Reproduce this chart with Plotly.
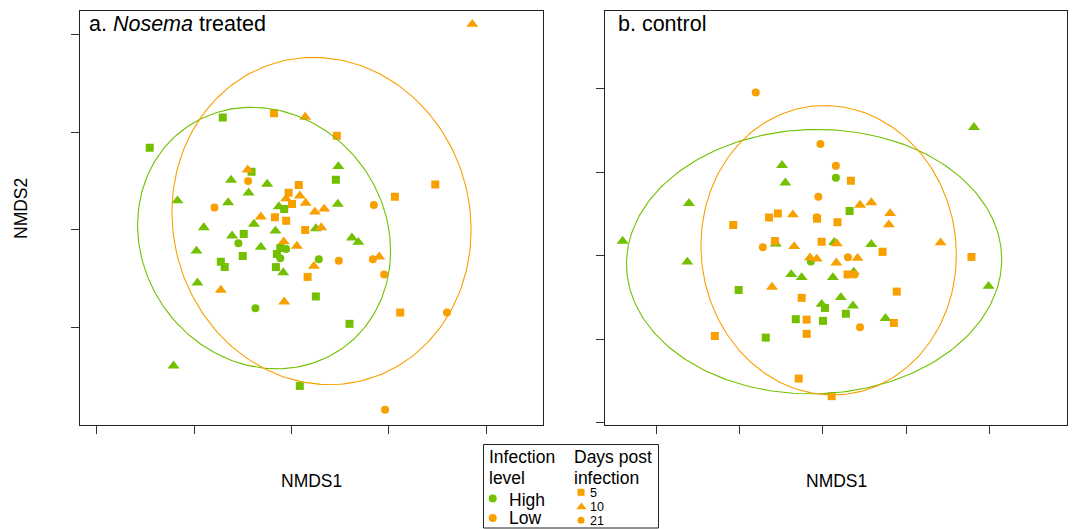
import numpy as np
import plotly.graph_objects as go

# ---------------- Data (NMDS scores) ----------------
# Panel a: Nosema treated
a_high_d5_x = [-0.291, -0.141, -0.082, 0.091, -0.015, -0.098, -0.100, -0.145, -0.137, -0.023, -0.030, -0.032, 0.050, 0.119, 0.017]
a_high_d5_y = [0.168, 0.230, 0.119, 0.103, 0.043, -0.008, -0.053, -0.065, -0.076, -0.037, -0.049, -0.076, -0.136, -0.192, -0.319]
a_high_d10_x = [-0.124, -0.050, -0.088, -0.234, -0.130, -0.026, 0.096, 0.095, -0.180, -0.077, -0.033, -0.122, -0.063, -0.195, -0.017, -0.193, -0.242, 0.050, 0.124, 0.137]
a_high_d10_y = [0.102, 0.094, 0.076, 0.060, 0.056, 0.048, 0.130, 0.053, 0.005, 0.012, -0.002, -0.012, -0.035, -0.043, -0.087, -0.108, -0.278, 0.003, -0.016, -0.025]
a_high_d21_x = [-0.109, -0.011, -0.023, -0.074, 0.056]
a_high_d21_y = [-0.027, -0.039, -0.058, -0.160, -0.060]
a_low_d5_x = [-0.036, 0.093, 0.015, -0.006, 0.001, -0.034, -0.011, 0.028, 0.033, 0.212, 0.295, 0.223]
a_low_d5_y = [0.239, 0.193, 0.092, 0.076, 0.053, 0.026, 0.019, 0.000, -0.096, 0.068, 0.093, -0.169]
a_low_d10_x = [0.028, -0.090, 0.017, -0.011, 0.029, -0.063, 0.048, 0.067, -0.016, 0.011, 0.061, 0.046, 0.180, -0.145, -0.015, 0.371]
a_low_d10_y = [0.231, 0.123, 0.070, 0.064, 0.055, 0.027, 0.037, 0.043, -0.024, -0.033, 0.005, -0.074, -0.055, -0.123, -0.147, 0.421]
a_low_d21_x = [-0.089, -0.158, 0.169, 0.097, 0.167, 0.190, 0.319, 0.192]
a_low_d21_y = [0.100, 0.046, 0.051, -0.063, -0.060, -0.091, -0.169, -0.368]

# Panel b: control
b_high_d5_x = [0.064, -0.202, 0.005, -0.065, 0.000, -0.137, 0.055]
b_high_d5_y = [0.107, -0.082, -0.125, -0.152, -0.156, -0.196, -0.139]
b_high_d10_x = [0.362, -0.098, -0.090, -0.321, -0.480, -0.113, -0.325, -0.076, -0.051, -0.003, 0.027, 0.116, 0.074, 0.024, 0.043, 0.072, 0.150, 0.397]
b_high_d10_y = [0.307, 0.216, 0.174, 0.125, 0.035, 0.028, -0.015, -0.045, -0.052, -0.116, 0.032, 0.027, -0.039, -0.052, -0.100, -0.120, -0.150, -0.073]
b_high_d21_x = [0.031, -0.029]
b_high_d21_y = [0.186, -0.014]
b_low_d5_x = [0.067, -0.129, -0.108, -0.014, 0.035, -0.215, -0.115, -0.003, -0.051, -0.039, -0.039, -0.259, -0.058, 0.021, 0.143, 0.356, 0.059, 0.177, 0.170]
b_low_d5_y = [0.179, 0.091, 0.101, 0.088, 0.080, 0.073, 0.035, 0.033, -0.101, -0.153, -0.187, -0.192, -0.294, -0.336, 0.009, -0.003, -0.045, -0.086, -0.161]
b_low_d10_x = [-0.072, 0.089, 0.116, 0.161, 0.158, -0.069, -0.031, -0.015, -0.122, 0.033, 0.282, 0.083, 0.032]
b_low_d10_y = [0.098, 0.121, 0.127, 0.101, 0.074, 0.022, -0.005, -0.008, -0.075, 0.029, 0.031, -0.006, -0.017]
b_low_d21_x = [-0.161, -0.006, -0.011, -0.015, 0.031, -0.144, 0.060, 0.076, 0.089]
b_low_d21_y = [0.390, 0.267, 0.141, 0.092, 0.215, 0.020, -0.004, -0.045, -0.171]

x_ticks = [-0.4, -0.2, 0.0, 0.2, 0.4]
a_y_ticks = [-0.2, 0.0, 0.2, 0.4]
b_y_ticks = [-0.4, -0.2, 0.0, 0.2, 0.4]

panel_titles = ["a. <i>Nosema</i> treated", "b. control"]
x_title = "NMDS1"
y_title = "NMDS2"
level_names = ["High", "Low"]
day_names = ["5", "10", "21"]

# ---------------- Style ----------------
W, H = 1074, 529
GREEN = "#72C000"
ORANGE = "#F8A000"
FONT = "Liberation Sans, Arial, Helvetica, sans-serif"
SYM = {"5": "square", "10": "triangle-up", "21": "circle"}
SIZE = {"5": 8, "10": 10.5, "21": 8}


def fx(p):
    return p / W


def fy(p):
    return 1 - p / H


def ellipse(xs, ys, n=240):
    X = np.column_stack([np.concatenate(xs), np.concatenate(ys)])
    c = X.mean(axis=0)
    S = np.cov(X.T)
    L = np.linalg.cholesky(S)
    t = np.linspace(0, 2 * np.pi, n)
    circ = np.column_stack([np.cos(t), np.sin(t)])
    pts = c + np.sqrt(5.991464547) * circ @ L.T
    return pts[:, 0], pts[:, 1]


fig = go.Figure()

panels = [
    ("x", "y", {
        ("High", "5"): (a_high_d5_x, a_high_d5_y), ("High", "10"): (a_high_d10_x, a_high_d10_y),
        ("High", "21"): (a_high_d21_x, a_high_d21_y), ("Low", "5"): (a_low_d5_x, a_low_d5_y),
        ("Low", "10"): (a_low_d10_x, a_low_d10_y), ("Low", "21"): (a_low_d21_x, a_low_d21_y)}),
    ("x2", "y2", {
        ("High", "5"): (b_high_d5_x, b_high_d5_y), ("High", "10"): (b_high_d10_x, b_high_d10_y),
        ("High", "21"): (b_high_d21_x, b_high_d21_y), ("Low", "5"): (b_low_d5_x, b_low_d5_y),
        ("Low", "10"): (b_low_d10_x, b_low_d10_y), ("Low", "21"): (b_low_d21_x, b_low_d21_y)}),
]

for xa, ya, groups in panels:
    for lvl in level_names:
        col = GREEN if lvl == "High" else ORANGE
        for d in day_names:
            xs, ys = groups[(lvl, d)]
            fig.add_trace(go.Scatter(x=xs, y=ys, mode="markers", xaxis=xa, yaxis=ya,
                                     marker=dict(symbol=SYM[d], size=SIZE[d], color=col,
                                                 line=dict(width=0)),
                                     showlegend=False, hoverinfo="skip"))
    for lvl in level_names:
        col = GREEN if lvl == "High" else ORANGE
        ex, ey = ellipse([groups[(lvl, d)][0] for d in day_names],
                         [groups[(lvl, d)][1] for d in day_names])
        fig.add_trace(go.Scatter(x=ex, y=ey, mode="lines", xaxis=xa, yaxis=ya,
                                 line=dict(color=col, width=1.1),
                                 showlegend=False, hoverinfo="skip"))

# legend symbols on a full-page (transparent) overlay axis
leg_sym = [
    (492.7, 498.5, "circle", GREEN, 8),
    (492.7, 518.0, "circle", ORANGE, 8),
    (581.0, 492.3, "square", ORANGE, 7),
    (581.5, 507.0, "triangle-up", ORANGE, 9),
    (581.0, 520.3, "circle", ORANGE, 7),
]
for lx, ly, s, c, sz in leg_sym:
    fig.add_trace(go.Scatter(x=[lx], y=[ly], mode="markers", xaxis="x3", yaxis="y3",
                             marker=dict(symbol=s, size=sz, color=c, line=dict(width=0)),
                             showlegend=False, hoverinfo="skip"))

axis_common = dict(showgrid=False, zeroline=False, showline=True, mirror=True,
                   linecolor="#222", linewidth=1, ticks="outside", ticklen=8,
                   tickwidth=1, tickcolor="#333", showticklabels=False)

fig.update_layout(
    width=W, height=H,
    margin=dict(l=0, r=0, t=0, b=0),
    paper_bgcolor="white", plot_bgcolor="rgba(0,0,0,0)",
    font=dict(family=FONT, color="black"),
    xaxis=dict(domain=[fx(79.5), fx(543)], range=[-0.435, 0.516], tickvals=x_ticks, **axis_common),
    yaxis=dict(domain=[fy(425), fy(11)], range=[-0.399, 0.448], tickvals=a_y_ticks, **axis_common),
    xaxis2=dict(domain=[fx(604.7), fx(1067)], range=[-0.523, 0.585], tickvals=x_ticks, anchor="y2", **axis_common),
    yaxis2=dict(domain=[fy(425), fy(11)], range=[-0.405, 0.585], tickvals=b_y_ticks, anchor="x2", **axis_common),
    xaxis3=dict(domain=[0, 1], range=[0, W], visible=False, anchor="y3", fixedrange=True),
    yaxis3=dict(domain=[0, 1], range=[H, 0], visible=False, anchor="x3", fixedrange=True),
    showlegend=False,
)

ann = []
def text(x, y, s, size, xanchor="left", angle=0):
    ann.append(dict(x=fx(x), y=fy(y), xref="paper", yref="paper", text=s, showarrow=False,
                    xanchor=xanchor, yanchor="middle", textangle=angle,
                    font=dict(family=FONT, size=size, color="black")))

text(87, 24, panel_titles[0], 21.5)
text(616, 24, panel_titles[1], 21.5)
text(311, 481, x_title, 17.5, xanchor="center")
text(836, 481, x_title, 17.5, xanchor="center")
text(21, 209, y_title, 17.5, xanchor="center", angle=-90)
# legend texts
text(487, 457, "Infection", 17.5)
text(487, 477.5, "level", 17.5)
text(507, 499.5, level_names[0], 17.5)
text(507, 518, level_names[1], 17.5)
text(572, 457, "Days post", 17.5)
text(572, 478, "infection", 17.5)
text(588, 492.5, day_names[0], 12.5)
text(588, 507, day_names[1], 12.5)
text(588, 520.5, day_names[2], 12.5)
fig.update_layout(annotations=ann)

fig.add_shape(type="rect", xref="paper", yref="paper",
              x0=fx(483.5), x1=fx(658.5), y0=fy(528), y1=fy(444.5),
              line=dict(color="#222", width=1), fillcolor="rgba(0,0,0,0)")

fig.write_html("out.html", config={"displayModeBar": False},
               post_script="document.body.style.margin='0';document.body.style.overflow='hidden';")
